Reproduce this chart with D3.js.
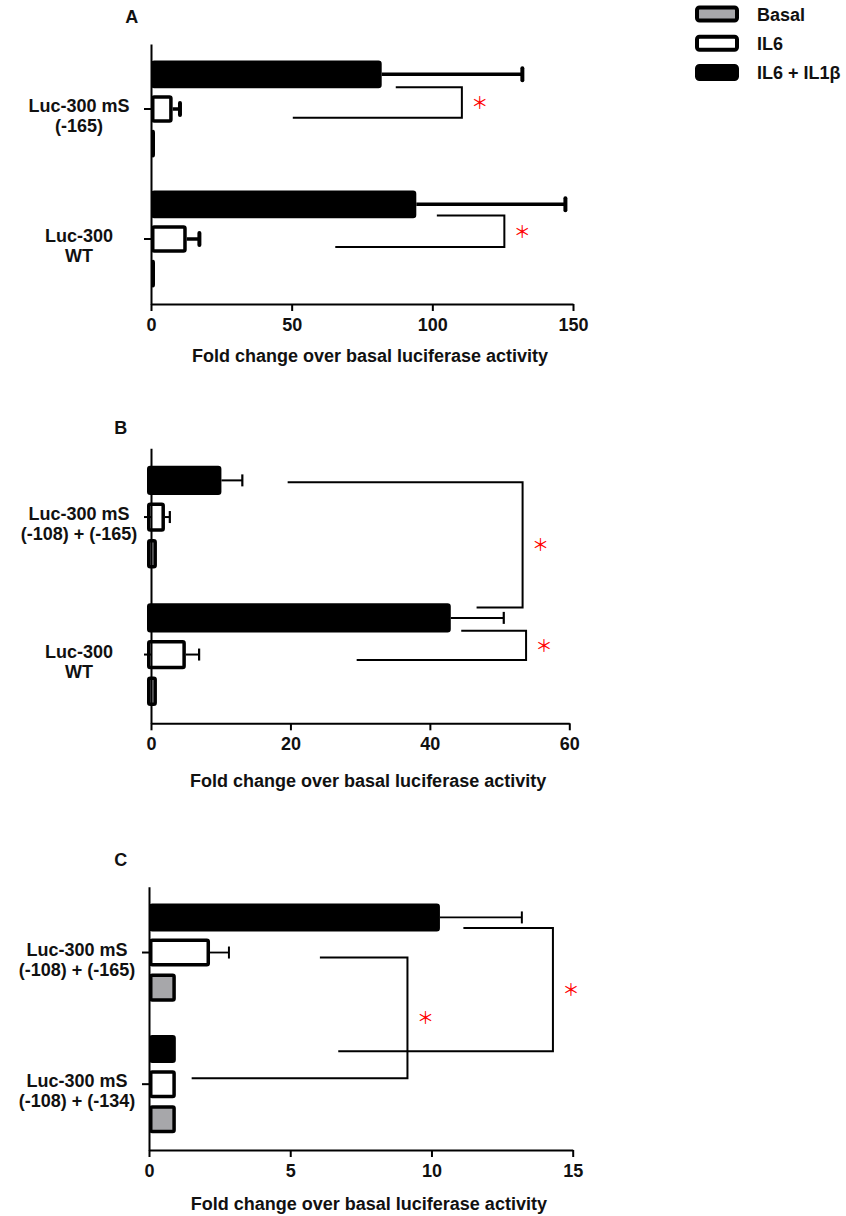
<!DOCTYPE html>
<html>
<head>
<meta charset="utf-8">
<script src="https://cdnjs.cloudflare.com/ajax/libs/d3/7.8.5/d3.min.js"></script>
<style>
  body { margin: 0; background: #fff; }
  svg text { font-family: "Liberation Sans", Arial, sans-serif; font-weight: bold; font-size: 18px; fill: #111; }
  .axis path, .axis line { stroke: #000; stroke-width: 2; }
  .axis text { font-size: 18px; }
  .star { font-family: "Noto Sans CJK SC", sans-serif; font-weight: normal; fill: #f00; }
</style>
</head>
<body>
<svg id="chart" width="846" height="1216"></svg>
<script>

/*********************
***** CHART DATA *****
*********************/

// bar order inside each construct, top to bottom
const series = ["IL6 + IL1β", "IL6", "Basal"];
// legend order, top to bottom
const legendItems = ["Basal", "IL6", "IL6 + IL1β"];

// panel A
const constructsA = [["Luc-300 mS", "(-165)"], ["Luc-300", "WT"]];
const meansA = [[82, 7.7, 1], [94.3, 12.7, 1]];
const errorsA = [[50, 2.6, 0], [53, 4.5, 0]];
const ticksA = [0, 50, 100, 150];
// brackets: [construct index, slot, start value] for upper and lower arm, then the vertical value
const bracketsA = [
    {upper: [0, 0.37, 87], lower: [0, 1.25, 50.4], at: 110.5},
    {upper: [1, 0.32, 101.6], lower: [1, 1.23, 65.5], at: 125.6}
];

// panel B
const constructsB = [["Luc-300 mS", "(-108) + (-165)"], ["Luc-300", "WT"]];
const meansB = [[10.1, 2.0, 0.85], [43.0, 5.0, 0.85]];
const errorsB = [[3.0, 0.7, 0], [7.6, 1.9, 0]];
const ticksB = [0, 20, 40, 60];
const bracketsB = [
    {upper: [0, 0.05, 19.6], lower: [1, -0.28, 46.7], at: 53.3},
    {upper: [1, 0.35, 44.5], lower: [1, 1.15, 29.5], at: 53.8}
];

// panel C
const constructsC = [["Luc-300 mS", "(-108) + (-165)"], ["Luc-300 mS", "(-108) + (-134)"]];
const meansC = [[10.3, 2.16, 0.95], [0.95, 0.95, 0.95]];
const errorsC = [[2.9, 0.67, 0], [0, 0, 0]];
const ticksC = [0, 5, 10, 15];
const bracketsC = [
    {upper: [0, 0.30, 11.13], lower: [1, 0.06, 6.7], at: 14.3},
    {upper: [0, 1.14, 6.05], lower: [1, 0.83, 1.51], at: 9.15}
];

/******************
***** STYLING *****
******************/

const fills = {"Basal": "#a7a7aa", "IL6": "#ffffff", "IL6 + IL1β": "#000000"};
const BAR_STROKE = 3.5;
const AXIS_TITLE = "Fold change over basal luciferase activity";

const svg = d3.select("#chart");

/*************************
***** DRAW ONE PANEL *****
*************************/

function drawPanel(cfg) {

    const g = svg.append("g").attr("class", "panel");

    const keys = cfg.constructs.map(c => c.join(" "));

    const xScale = d3.scaleLinear()
        .domain([0, cfg.ticks[cfg.ticks.length - 1]])
        .range([cfg.left, cfg.right]);

    // one band per construct, one sub band per treatment
    const yOuter = d3.scaleBand()
        .domain(keys)
        .range([cfg.top, cfg.bottom])
        .paddingInner(0.2)
        .paddingOuter(0.1);

    const yInner = d3.scaleBand()
        .domain(series)
        .range([0, yOuter.bandwidth()])
        .paddingInner(0.2)
        .paddingOuter(0.1);

    // centre of a (fractional) bar slot inside a construct
    function slotY(gi, s) {
        return yOuter(keys[gi]) + yInner(series[0]) + yInner.bandwidth() / 2 + s * yInner.step();
    }

    // panel letter
    g.append("text")
        .attr("x", cfg.letterX)
        .attr("y", cfg.letterY)
        .attr("text-anchor", "middle")
        .text(cfg.letter);

    /*****************
    ***** BARS *****
    *****************/

    const rows = [];
    cfg.means.forEach((vals, gi) => {
        vals.forEach((v, si) => {
            rows.push({key: keys[gi], s: series[si], v: v, e: cfg.errors[gi][si]});
        });
    });

    const half = BAR_STROKE / 2;

    g.selectAll(".bar")
        .data(rows)
        .enter()
        .append("rect")
        .attr("class", "bar")
        .attr("x", d => xScale(0) + cfg.barShift + half)
        .attr("y", d => yOuter(d.key) + yInner(d.s) + half)
        .attr("width", d => Math.max(0.5, xScale(d.v) - xScale(0) - cfg.barShift - BAR_STROKE))
        .attr("height", yInner.bandwidth() - BAR_STROKE)
        .attr("rx", 1.5)
        .attr("fill", d => fills[d.s])
        .attr("stroke", "#000")
        .attr("stroke-width", BAR_STROKE)
        .attr("stroke-linejoin", "round");

    // one sided error bars
    const errRows = rows.filter(d => d.e > 0);

    g.selectAll(".errLine")
        .data(errRows)
        .enter()
        .append("line")
        .attr("class", "errLine")
        .attr("x1", d => xScale(d.v))
        .attr("x2", d => xScale(d.v + d.e))
        .attr("y1", d => yOuter(d.key) + yInner(d.s) + yInner.bandwidth() / 2)
        .attr("y2", d => yOuter(d.key) + yInner(d.s) + yInner.bandwidth() / 2)
        .attr("stroke", "#000")
        .attr("stroke-width", cfg.errWidth);

    g.selectAll(".errCap")
        .data(errRows)
        .enter()
        .append("line")
        .attr("class", "errCap")
        .attr("x1", d => xScale(d.v + d.e))
        .attr("x2", d => xScale(d.v + d.e))
        .attr("y1", d => yOuter(d.key) + yInner(d.s) + yInner.bandwidth() / 2 - 6)
        .attr("y2", d => yOuter(d.key) + yInner(d.s) + yInner.bandwidth() / 2 + 6)
        .attr("stroke", "#000")
        .attr("stroke-width", cfg.capWidth)
        .attr("stroke-linecap", cfg.capRound ? "round" : "butt");

    /*********************
    ***** BRACKETS *****
    *********************/

    cfg.brackets.forEach(b => {
        const yU = slotY(b.upper[0], b.upper[1]);
        const yL = slotY(b.lower[0], b.lower[1]);
        const xv = xScale(b.at);
        g.append("path")
            .attr("d", `M${xScale(b.upper[2])},${yU}H${xv}V${yL}H${xScale(b.lower[2])}`)
            .attr("fill", "none")
            .attr("stroke", "#000")
            .attr("stroke-width", 2);
        g.append("text")
            .attr("class", "star")
            .attr("x", xv + 18)
            .attr("y", (yU + yL) / 2)
            .attr("dy", "0.38em")
            .attr("text-anchor", "middle")
            .style("font-size", "17px")
            .text("＊");
    });

    /*********************
    ***** X & Y AXES *****
    *********************/

    g.append("g")
        .attr("class", "axis")
        .attr("transform", `translate(0, ${cfg.bottom})`)
        .call(d3.axisBottom(xScale)
            .tickValues(cfg.ticks)
            .tickSize(7)
            .tickSizeOuter(0)
            .tickPadding(7))
        .call(a => a.selectAll("text").attr("fill", "#111"));

    const yAxis = g.append("g")
        .attr("class", "axis")
        .attr("transform", `translate(${cfg.left}, 0)`)
        .call(d3.axisLeft(yOuter)
            .tickSize(7)
            .tickSizeOuter(0));

    // two line construct labels
    yAxis.selectAll(".tick text").each(function(d, i) {
        const t = d3.select(this)
            .text(null)
            .attr("x", null)
            .attr("dy", null)
            .attr("fill", "#111")
            .attr("text-anchor", "middle");
        cfg.constructs[i].forEach((line, li) => {
            t.append("tspan")
                .attr("x", -72)
                .attr("y", li === 0 ? 3 : 23)
                .text(line);
        });
    });

    // axis title
    g.append("text")
        .attr("x", (cfg.left + cfg.right) / 2 + 8)
        .attr("y", cfg.titleY)
        .attr("text-anchor", "middle")
        .text(AXIS_TITLE);
}

/*******************
***** PANELS *****
*******************/

drawPanel({letter: "A", letterX: 131.7, letterY: 23, top: 44, bottom: 304, left: 151, right: 573,
    titleY: 361.5, errWidth: 3.5, capWidth: 4, capRound: true, barShift: 0,
    constructs: constructsA, means: meansA, errors: errorsA, ticks: ticksA, brackets: bracketsA});

drawPanel({letter: "B", letterX: 120.7, letterY: 434, top: 448.3, bottom: 723.3, left: 151, right: 569.3,
    titleY: 786.5, errWidth: 2, capWidth: 2.2, capRound: false, barShift: -4,
    constructs: constructsB, means: meansB, errors: errorsB, ticks: ticksB, brackets: bracketsB});

drawPanel({letter: "C", letterX: 120.7, letterY: 866, top: 886.7, bottom: 1150, left: 149, right: 572.7,
    titleY: 1209.8, errWidth: 1.8, capWidth: 2, capRound: false, barShift: 0,
    constructs: constructsC, means: meansC, errors: errorsC, ticks: ticksC, brackets: bracketsC});

/*****************
***** LEGEND *****
*****************/

const legend = svg.append("g").attr("id", "legend");

const legendY = d3.scalePoint()
    .domain(legendItems)
    .range([14, 72.5]);

legend.selectAll(".swatch")
    .data(legendItems)
    .enter()
    .append("rect")
    .attr("class", "swatch")
    .attr("x", 697)
    .attr("y", d => legendY(d) - 6.5)
    .attr("width", 40)
    .attr("height", 13)
    .attr("rx", 2.5)
    .attr("fill", d => fills[d])
    .attr("stroke", "#000")
    .attr("stroke-width", 4);

legend.selectAll(".legendText")
    .data(legendItems)
    .enter()
    .append("text")
    .attr("class", "legendText")
    .attr("x", 757)
    .attr("y", d => legendY(d) + 6.5)
    .text(d => d);

</script>
</body>
</html>
